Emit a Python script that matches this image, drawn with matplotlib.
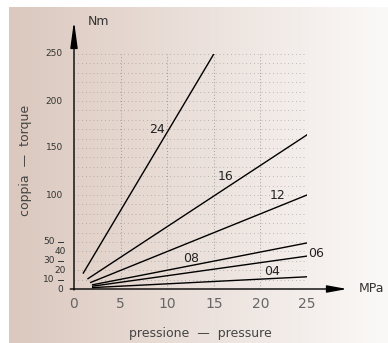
import matplotlib.pyplot as plt
import numpy as np

# motor sizes, start/end points of each torque line
sizes = ['24', '16', '12', '08', '06', '04']
p_start = [1.0, 1.5, 1.8, 2.0, 2.0, 2.0]
t_start = [17, 11, 7, 4.5, 3, 1.5]
p_end = [15, 25, 25, 25, 25, 25]
t_end = [250, 164, 100, 49, 35, 13]
# label positions
lab_p = [8.9, 16.3, 21.8, 12.6, 26.0, 21.3]
lab_t = [170, 120, 99, 32, 38, 19]

x_ticks = [0, 5, 10, 15, 20, 25]
y_ticks_big = [100, 150, 200, 250]
y_ticks_left = [10, 30, 50]
y_ticks_right = [20, 40]

W, H = 388, 343
fig = plt.figure(figsize=(W / 100, H / 100), dpi=100)
fig.patch.set_facecolor('white')

# background gradient panel
bg = fig.add_axes([9 / W, 0, 1 - 9 / W, 1 - 7 / H])
c0 = np.array([219, 200, 190]) / 255
c1 = np.array([251, 249, 248]) / 255
t = np.linspace(0, 1, 256)
grad = (c0[None, :] * (1 - t[:, None]) + c1[None, :] * t[:, None])[None, :, :]
bg.imshow(grad, aspect='auto', extent=[0, 1, 0, 1])
bg.axis('off')

ax = fig.add_axes([74 / W, 54 / H, 233 / W, 235 / H])
ax.patch.set_alpha(0)
ax.set_xlim(0, 25)
ax.set_ylim(0, 250)
ax.axis('off')

# grid
for y in range(10, 251, 10):
    ax.plot([0, 25], [y, y], color='#8a8a8a', lw=0.5, ls=(0, (1, 4.5)))
for x in x_ticks[1:]:
    ax.plot([x, x], [0, 250], color='#8a8a8a', lw=0.5, ls=(0, (1.5, 3)))

# torque lines
for s, x0, y0, x1, y1, lx, ly in zip(sizes, p_start, t_start, p_end, t_end, lab_p, lab_t):
    ax.plot([x0, x1], [y0, y1], color='black', lw=1.0)
    ax.text(lx, ly, s, fontsize=9, ha='center', va='center', color='#222')

# axes with arrows
ax.annotate('', xy=(29.3, 0), xytext=(-0.4, 0), annotation_clip=False,
            arrowprops=dict(arrowstyle='-|>,head_length=1.2,head_width=0.22',
                            color='black', lw=1.0, mutation_scale=10, shrinkA=0, shrinkB=0))
ax.annotate('', xy=(0, 285), xytext=(0, -1), annotation_clip=False,
            arrowprops=dict(arrowstyle='-|>,head_length=1.6,head_width=0.22',
                            color='black', lw=1.0, mutation_scale=10, shrinkA=0, shrinkB=0))

# tick labels
for x in x_ticks:
    ax.text(x, -16, str(x), fontsize=10, ha='center', va='center', color='#666', clip_on=False)
for y in y_ticks_big + [0]:
    ax.text(-1.2, y, str(y), fontsize=6.5, ha='right', va='center', color='#333', clip_on=False)
for y in y_ticks_left:
    ax.text(-2.1, y, str(y), fontsize=6.5, ha='right', va='center', color='#333', clip_on=False)
    ax.plot([-1.7, -1.2], [y, y], color='#333', lw=0.7, clip_on=False)
for y in y_ticks_right:
    ax.text(-0.9, y, str(y), fontsize=6.5, ha='right', va='center', color='#333', clip_on=False)

ax.text(1.5, 285, 'Nm', fontsize=9, ha='left', va='center', color='#333', clip_on=False)
ax.text(30.6, 0, 'MPa', fontsize=9, ha='left', va='center', color='#333', clip_on=False)

fig.text(26 / W, 1 - 160 / H, 'coppia  —  torque', rotation=90, fontsize=9,
         ha='center', va='center', color='#444')
fig.text(200 / W, 1 - 333 / H, 'pressione  —  pressure', fontsize=9,
         ha='center', va='center', color='#444')

fig.savefig('out.png', dpi=100)
